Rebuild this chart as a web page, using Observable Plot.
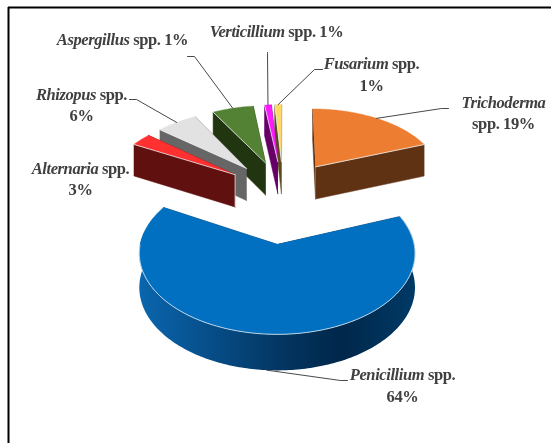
<!DOCTYPE html>
<html>
<head>
<meta charset="utf-8">
<script src="https://cdn.jsdelivr.net/npm/d3@7"></script>
<script src="https://cdn.jsdelivr.net/npm/@observablehq/plot@0.6"></script>
<style>
html,body{margin:0;padding:0;background:#fff;overflow:hidden}
svg{display:block;filter:blur(.35px)}
svg text{letter-spacing:-.4px}
</style>
</head>
<body>
<div id="chart"></div>
<script>
// ---- data (drawing order: far to near)
const genus      = ["Trichoderma","Fusarium","Verticillium","Aspergillus","Rhizopus","Alternaria","Penicillium"];
const drawnShare = [19, 1, 1, 6, 6, 3, 64];            // size of each wedge as drawn
const labels     = ["Trichoderma\nspp. 19%","Fusarium spp.\n1%","Verticillium spp. 1%","Aspergillus spp. 1%","Rhizopus spp.\n6%","Alternaria spp.\n3%","Penicillium spp.\n64%"];

// ---- styles
const topColors  = ["#ed7d31","#ffd966","#ff19ff","#548235","#e2e2e2","#ff3030","#0270c0"];
const wallColors = ["#603214","#5a4a20","#660066","#203510","#666666","#60100f","#03386a"];
const sideStops  = ["#0a66ad","#07518e","#033763","#00274a","#003a66"];
const sideStopX  = [139,200,277,340,415];
const edgeColor  = "#e9eef3";

// ---- layout
const explosion  = [.47,.47,.47,.47,.47,.47,.70];
const labelAt    = [[503,111],[371,72.5],[276,29.5],[122,38],[81,103],[80,177],[402,383.5]];
const leaderFrom = [[448,108],[322,69],[267,52],[187,56],[129,99],null,[347,380]];
const leaderKnee = [[441,108],[314,69],[267,53],[194,56],[136,99],null,[340,380]];
const firstAngle = 21.3;               // degrees, counter-clockwise from east
const pieCentre  = [.048,.70];         // pie centre in radii, from the big wedge's tip
const view = {x:276.6, y:244, rx:137, ry:80, persp:.111, depth:34};

const rad = d => d*Math.PI/180;
function project(X, Y, bottom=0){
  const w = 1 + view.persp*Y;
  return {x: view.x + view.rx*X/w, y: view.y - view.ry*Y/w + bottom*view.depth/Math.sqrt(w)};
}
const total = d3.sum(drawnShare);
let running = firstAngle;
const slices = genus.map((g,i)=>{
  const a0 = running, a1 = running + drawnShare[i]/total*360; running = a1;
  const mid = (a0+a1)/2;
  return {g, i, a0, a1, mid,
    planeX: pieCentre[0] + explosion[i]*Math.cos(rad(mid)),
    planeY: pieCentre[1] + explosion[i]*Math.sin(rad(mid))};
});
const pt = (s,a,r,b=0) => project(s.planeX + r*Math.cos(rad(a)), s.planeY + r*Math.sin(rad(a)), b);
const arcAngles = s => {
  const n = Math.max(2, Math.ceil(s.a1-s.a0));
  return d3.range(n+1).map(k => s.a0 + (s.a1-s.a0)*k/n);
};

const marks = [];
marks.push(Plot.ruleY([7],{x1:8,x2:551,stroke:"#000",strokeWidth:2}));
marks.push(Plot.ruleX([8],{y1:7,y2:443,stroke:"#000",strokeWidth:2}));

slices.forEach(s=>{
  const wall = wallColors[s.i], top = topColors[s.i];
  const big = s.g==="Penicillium";
  const angles = arcAngles(s);
  for(const a of [s.a0,s.a1]){
    const q=[pt(s,a,0,0),pt(s,a,1,0),pt(s,a,1,1),pt(s,a,0,1)];
    marks.push(Plot.line(q,{x:"x",y:"y",fill:wall,stroke:wall,strokeWidth:.5,curve:"linear"}));
  }
  if(big){
    const visible = angles.filter(a=>a>=170);
    const outer = [...visible.map(a=>pt(s,a,1,0)), ...visible.slice().reverse().map(a=>pt(s,a,1,1))];
    marks.push(Plot.line(outer,{x:"x",y:"y",fill:"url(#side)",curve:"linear"}));
  }
  const face=[pt(s,s.a0,0),...angles.map(a=>pt(s,a,1))];
  marks.push(Plot.line(face,{x:"x",y:"y",fill:top,stroke:top,strokeWidth:.4,curve:"linear"}));
  let edge;
  if(big) edge=angles.filter(a=>a>=180).map(a=>pt(s,a,1));
  else if(s.g==="Trichoderma") edge=[pt(s,s.a0,0),pt(s,s.a0,1)];
  else edge=[pt(s,s.a1,0),pt(s,s.a1,1)];
  marks.push(Plot.line(edge,{x:"x",y:"y",stroke:edgeColor,strokeWidth:.8,curve:"linear"}));
  if(s.g==="Alternaria"){
    marks.push(Plot.line([pt(s,s.a1,0,0),pt(s,s.a1,0,1)],{x:"x",y:"y",stroke:edgeColor,strokeWidth:.8,curve:"linear"}));
  }
  if(leaderFrom[s.i]){
    const end=pt(s,s.mid,1,big?1:0);
    const f=leaderFrom[s.i],kn=leaderKnee[s.i];
    marks.push(Plot.line([{x:f[0],y:f[1]},{x:kn[0],y:kn[1]},end],{x:"x",y:"y",stroke:"#333",strokeWidth:.9,curve:"linear"}));
  }
});

marks.push(Plot.text(labels.map((t,i)=>({t,x:labelAt[i][0],y:labelAt[i][1]})),{
  x:"x",y:"y",text:"t",textAnchor:"middle",lineHeight:1.32,
  fontFamily:"'Liberation Serif'",fontWeight:"bold",fontSize:16.5,fill:"#404040"
}));

const chart = Plot.plot({
  width:551,height:443,margin:0,
  x:{domain:[0,551],range:[0,551],axis:null},
  y:{domain:[0,443],range:[0,443],axis:null},
  style:{background:"#fff"},
  marks
});

const NS="http://www.w3.org/2000/svg";
// horizontal shading of the big wedge's outer wall
const defs=document.createElementNS(NS,"defs");
const grad=document.createElementNS(NS,"linearGradient");
grad.setAttribute("id","side");
grad.setAttribute("gradientUnits","userSpaceOnUse");
grad.setAttribute("x1",chart.scale("x").apply(sideStopX[0]));
grad.setAttribute("x2",chart.scale("x").apply(sideStopX[sideStopX.length-1]));
grad.setAttribute("y1",0);grad.setAttribute("y2",0);
sideStops.forEach((c,i)=>{
  const st=document.createElementNS(NS,"stop");
  st.setAttribute("offset",(sideStopX[i]-sideStopX[0])/(sideStopX[sideStopX.length-1]-sideStopX[0]));
  st.setAttribute("stop-color",c);
  grad.appendChild(st);
});
defs.appendChild(grad);
chart.insertBefore(defs,chart.firstChild);

// genus names are set in italics inside their labels
chart.querySelectorAll("text, text tspan").forEach(el=>{
  const n=el.firstChild;
  if(!n||n.nodeType!==3) return;
  const g=genus.find(g=>n.nodeValue.startsWith(g));
  if(!g) return;
  const it=document.createElementNS(NS,"tspan");
  it.setAttribute("font-style","italic");
  it.textContent=g;
  n.nodeValue=n.nodeValue.slice(g.length);
  el.insertBefore(it,n);
});
document.getElementById("chart").appendChild(chart);
</script>
</body>
</html>
